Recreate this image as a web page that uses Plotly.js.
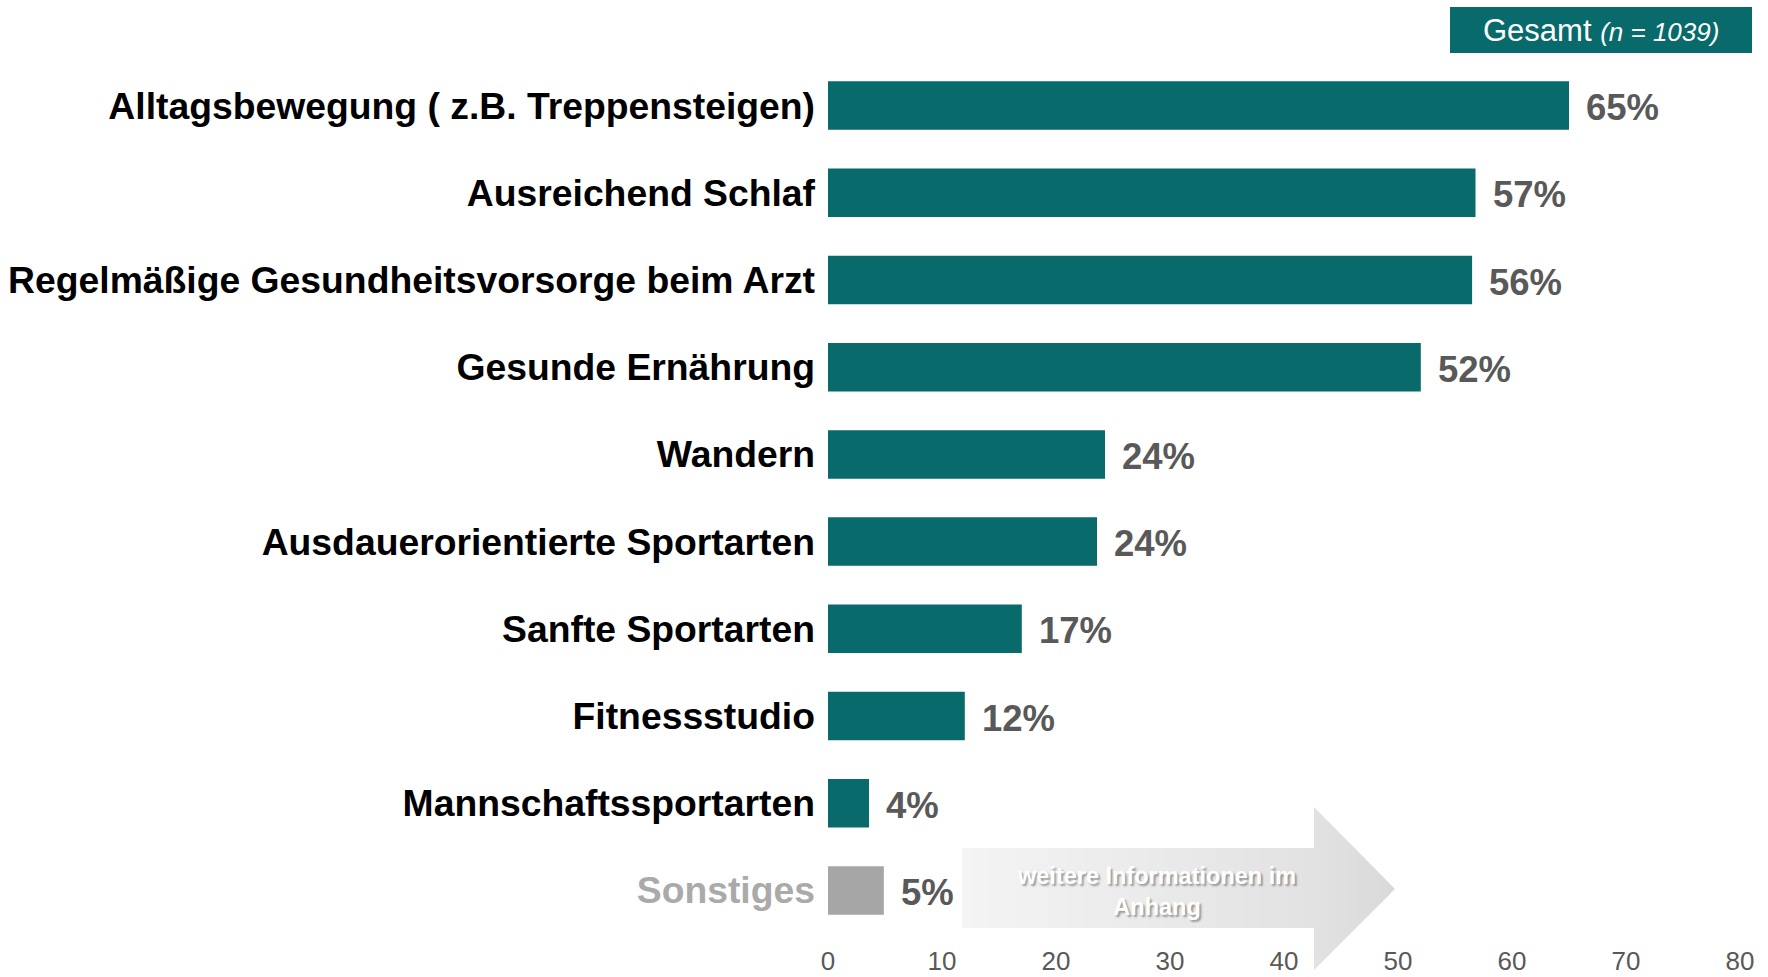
<!DOCTYPE html>
<html>
<head>
<meta charset="utf-8">
<script src="https://cdn.plot.ly/plotly-3.0.1.min.js"></script>
<style>
  html, body { margin: 0; padding: 0; background: #ffffff; }
  #chart { width: 1768px; height: 977px; }
</style>
</head>
<body>
<div id="chart"></div>
<script>
// ---- data ----
const categories = [
  'Alltagsbewegung ( z.B. Treppensteigen)',
  'Ausreichend Schlaf',
  'Regelmäßige Gesundheitsvorsorge beim Arzt',
  'Gesunde Ernährung',
  'Wandern',
  'Ausdauerorientierte Sportarten',
  'Sanfte Sportarten',
  'Fitnessstudio',
  'Mannschaftssportarten',
  'Sonstiges'
];
const values = [65.0, 56.8, 56.5, 52.0, 24.3, 23.6, 17.0, 12.0, 3.6, 4.9];
const valueLabels = ['65%', '57%', '56%', '52%', '24%', '24%', '17%', '12%', '4%', '5%'];
const xTicks = [0, 10, 20, 30, 40, 50, 60, 70, 80];
const panelTitle = 'Gesamt';
const panelSample = '(n = 1039)';
const arrowText = ['weitere Informationen im', 'Anhang'];
const otherCategory = 'Sonstiges';

// ---- style ----
const TEAL = '#086a6a';
const GREY_BAR = '#a6a6a6';
const FONT = 'Liberation Sans, Arial, sans-serif';
const W = 1768, H = 977;
const M = { l: 828, r: 28, t: 62, b: 43 };
const PW = W - M.l - M.r, PH = H - M.t - M.b;
const px = x => (x - M.l) / PW;
const py = y => (H - M.b - y) / PH;

const barColors = categories.map(c => c === otherCategory ? GREY_BAR : TEAL);
const tickText = categories.map(c => c === otherCategory
  ? '<span style="color:#aaaaaa">' + c + '</span>' : c);

const trace = {
  type: 'bar',
  orientation: 'h',
  x: values,
  y: categories,
  marker: { color: barColors, line: { width: 0 } },
  hoverinfo: 'none',
  cliponaxis: false
};

// value labels
const annotations = values.map((v, i) => ({
  x: v, y: categories[i], xref: 'x', yref: 'y',
  text: valueLabels[i], showarrow: false,
  xanchor: 'left', yanchor: 'middle', xshift: 15, yshift: -2,
  font: { family: FONT, size: 36.5, color: '#595959', weight: 'bold' }
}));

// panel title box
annotations.push({
  xref: 'paper', yref: 'paper', x: px(1601), y: py(30),
  xanchor: 'center', yanchor: 'middle', showarrow: false,
  text: panelTitle + ' <i><span style="font-size:26px">' + panelSample + '</span></i>',
  font: { family: FONT, size: 31, color: '#ffffff' }
});

// arrow text
annotations.push({
  xref: 'paper', yref: 'paper', x: px(1156), y: py(891),
  xanchor: 'center', yanchor: 'middle', showarrow: false,
  text: arrowText.join('<br>'), align: 'center',
  font: { family: FONT, size: 23.5, color: '#ffffff', weight: 'bold',
          shadow: '2px 2px 2px rgba(0,0,0,0.35)' }
});

// shapes: title box + gradient arrow (decoration)
const shapes = [{
  type: 'rect', xref: 'paper', yref: 'paper', layer: 'below',
  x0: px(1450), x1: px(1752), y0: py(53), y1: py(7),
  fillcolor: TEAL, line: { width: 0 }
}];

function mix(a, b, t) {
  const c = a.map((v, k) => Math.round(v + (b[k] - v) * t));
  return 'rgb(' + c.join(',') + ')';
}
const bodyX0 = 962, bodyX1 = 1314, bodyY0 = 848, bodyY1 = 928;
const headTop = 807, headBot = 970, tipX = 1395, tipY = 889;
const cL = [244, 244, 244], cM = [226, 226, 226], cR = [217, 217, 217];
const NB = 40;
for (let k = 0; k < NB; k++) {
  const a = bodyX0 + (bodyX1 - bodyX0) * k / NB;
  const b = bodyX0 + (bodyX1 - bodyX0) * (k + 1) / NB + 0.8;
  shapes.push({
    type: 'rect', xref: 'paper', yref: 'paper', layer: 'below',
    x0: px(a), x1: px(b), y0: py(bodyY1), y1: py(bodyY0),
    fillcolor: mix(cL, cM, (k + 0.5) / NB), line: { width: 0 }
  });
}
const NH = 12;
const topAt = x => headTop + (tipY - headTop) * (x - bodyX1) / (tipX - bodyX1);
const botAt = x => headBot - (headBot - tipY) * (x - bodyX1) / (tipX - bodyX1);
for (let k = 0; k < NH; k++) {
  const a = bodyX1 + (tipX - bodyX1) * k / NH;
  const b = Math.min(tipX, bodyX1 + (tipX - bodyX1) * (k + 1) / NH + 0.8);
  const path = 'M' + px(a) + ',' + py(topAt(a)) +
    ' L' + px(b) + ',' + py(topAt(b)) +
    ' L' + px(b) + ',' + py(botAt(b)) +
    ' L' + px(a) + ',' + py(botAt(a)) + ' Z';
  shapes.push({
    type: 'path', xref: 'paper', yref: 'paper', layer: 'below',
    path: path, fillcolor: mix(cM, cR, (k + 0.5) / NH), line: { width: 0 }
  });
}

const layout = {
  width: W, height: H,
  margin: { l: M.l, r: M.r, t: M.t, b: M.b, pad: 0, autoexpand: false },
  paper_bgcolor: '#ffffff', plot_bgcolor: 'rgba(0,0,0,0)',
  showlegend: false,
  bargap: 0.444,
  font: { family: FONT },
  xaxis: {
    range: [0, 80], tickvals: xTicks, ticktext: xTicks.map(String),
    showgrid: false, zeroline: false, showline: false, ticks: '',
    ticklabelstandoff: 9,
    tickfont: { family: FONT, size: 26, color: '#595959' },
    fixedrange: true
  },
  yaxis: {
    type: 'category', categoryorder: 'array', categoryarray: categories,
    range: [categories.length - 0.5, -0.5],
    tickvals: categories, ticktext: tickText,
    showgrid: false, zeroline: false, showline: false, ticks: '',
    ticklabelstandoff: 12,
    tickfont: { family: FONT, size: 37.3, color: '#000000', weight: 'bold' },
    fixedrange: true
  },
  annotations: annotations,
  shapes: shapes
};

Plotly.newPlot('chart', [trace], layout, { displayModeBar: false, staticPlot: true });
</script>
</body>
</html>
